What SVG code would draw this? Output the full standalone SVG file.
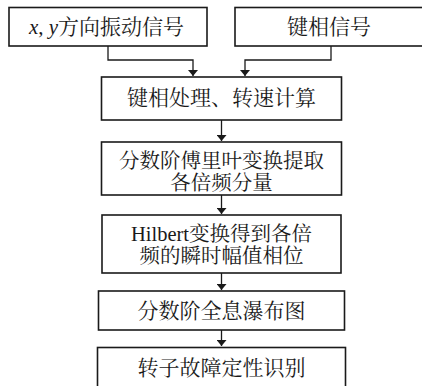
<svg xmlns="http://www.w3.org/2000/svg" width="422" height="386" viewBox="0 0 422 386">
<style>
.box{fill:#fff;stroke:#1a1a1a;stroke-width:1.6}
.t{font-family:"Liberation Serif","Noto Serif CJK SC","Noto Sans CJK SC",serif;font-size:21px;fill:#1a1a1a;text-anchor:middle;dominant-baseline:central}
.t2{font-size:20.5px}
.c{fill:none;stroke:#1a1a1a;stroke-width:1.3}
</style>
<defs>
<marker id="ah" viewBox="0 0 6 10" refX="6" refY="5" markerWidth="6" markerHeight="10" markerUnits="userSpaceOnUse" orient="auto">
<path d="M0,0 L6,5 L0,10 Z" fill="#1a1a1a"/>
</marker>
</defs>
<rect width="422" height="386" fill="#fff"/>
<g id="connectors">
<path class="c" d="M108,46 V60 H193 V76" marker-end="url(#ah)"/>
<path class="c" d="M331,46 V60 H245 V76" marker-end="url(#ah)"/>
<path class="c" d="M221.5,120 V141" marker-end="url(#ah)"/>
<path class="c" d="M221.5,195 V214" marker-end="url(#ah)"/>
<path class="c" d="M221.5,273 V290" marker-end="url(#ah)"/>
<path class="c" d="M221.5,330 V346" marker-end="url(#ah)"/>
</g>
<g id="n1">
<rect class="box" x="9" y="7.5" width="198" height="38.5"/>
<text class="t" x="106.5" y="27"><tspan font-style="italic">x</tspan>, <tspan font-style="italic">y</tspan>方向振动信号</text>
</g>
<g id="n2">
<rect class="box" x="235" y="7.5" width="200" height="38.5"/>
<text class="t" x="329" y="27">键相信号</text>
</g>
<g id="n3">
<rect class="box" x="101.5" y="77" width="240" height="43"/>
<text class="t" x="221.5" y="98">键相处理、转速计算</text>
</g>
<g id="n4">
<rect class="box" x="101.5" y="142" width="240" height="53"/>
<text class="t t2" x="221.5" y="160.5">分数阶傅里叶变换提取</text>
<text class="t t2" x="221.5" y="182.5">各倍频分量</text>
</g>
<g id="n5">
<rect class="box" x="102" y="215" width="239" height="58"/>
<text class="t t2" x="221.5" y="234">Hilbert变换得到各倍</text>
<text class="t t2" x="221.5" y="256">频的瞬时幅值相位</text>
</g>
<g id="n6">
<rect class="box" x="98.5" y="291" width="246" height="39"/>
<text class="t" x="221.5" y="311">分数阶全息瀑布图</text>
</g>
<g id="n7">
<rect class="box" x="97.5" y="347.5" width="248" height="50"/>
<text class="t" x="221.5" y="368">转子故障定性识别</text>
</g>
</svg>
